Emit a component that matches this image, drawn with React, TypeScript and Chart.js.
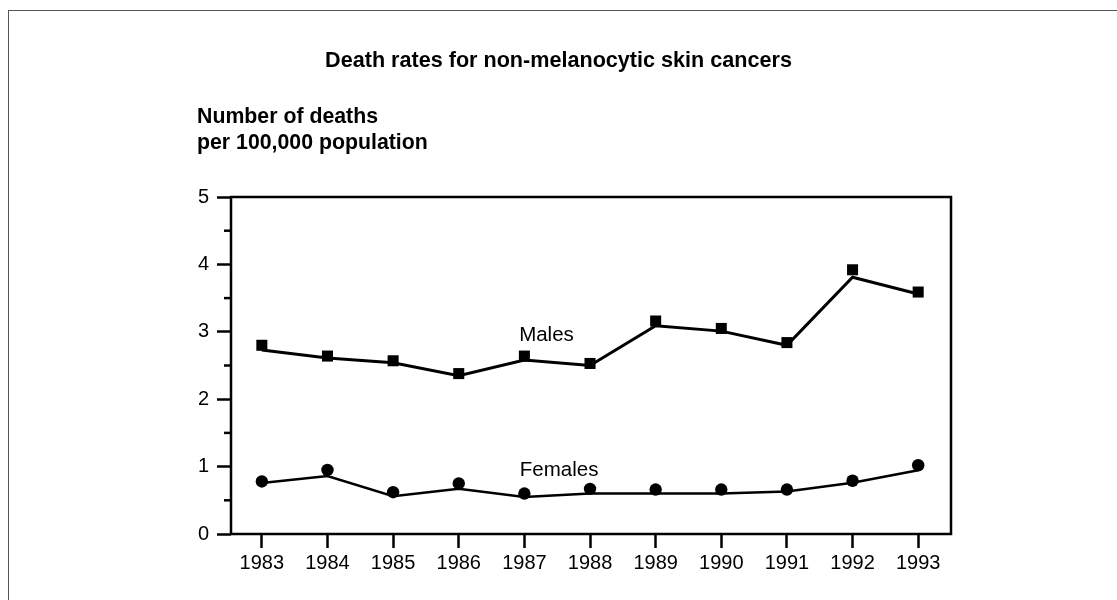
import React, { useEffect, useRef } from "react";
import { Chart, registerables } from "chart.js";

Chart.register(...registerables);

const years = [1983, 1984, 1985, 1986, 1987, 1988, 1989, 1990, 1991, 1992, 1993];
const malesPoints = [2.8, 2.64, 2.57, 2.38, 2.64, 2.53, 3.16, 3.05, 2.84, 3.92, 3.59];
const malesLine = [2.73, 2.61, 2.54, 2.35, 2.58, 2.5, 3.09, 3.01, 2.8, 3.81, 3.56];
const femalesPoints = [0.78, 0.95, 0.62, 0.75, 0.6, 0.67, 0.66, 0.66, 0.66, 0.79, 1.02];
const femalesLine = [0.757, 0.86, 0.56, 0.67, 0.55, 0.6, 0.6, 0.6, 0.63, 0.76, 0.945];
const yMinorTicks = [0.5, 1.5, 2.5, 3.5, 4.5];

const chartTitle = "Death rates for non-melanocytic skin cancers";
const yTitleLines = ["Number of deaths", "per 100,000 population"];
const seriesLabels = [
  { text: "Males", x: 1986.92, y: 2.866 },
  { text: "Females", x: 1986.93, y: 0.867 },
];

const FONT = "'Liberation Sans', Arial, Helvetica, sans-serif";

const toXY = (vals: number[]) => vals.map((v, i) => ({ x: years[i], y: v }));

const decorPlugin = {
  id: "decor",
  afterDraw(chart: any) {
    const { ctx, chartArea, scales } = chart;
    const xs = scales.x;
    const ys = scales.y;
    ctx.save();
    // plot frame
    ctx.strokeStyle = "#000";
    ctx.lineWidth = 2.5;
    ctx.strokeRect(chartArea.left, chartArea.top, chartArea.right - chartArea.left, chartArea.bottom - chartArea.top);
    // minor y ticks
    ctx.lineWidth = 2.5;
    yMinorTicks.forEach((v) => {
      const py = ys.getPixelForValue(v);
      ctx.beginPath();
      ctx.moveTo(chartArea.left - 7, py);
      ctx.lineTo(chartArea.left, py);
      ctx.stroke();
    });
    // title
    ctx.fillStyle = "#000";
    ctx.textBaseline = "alphabetic";
    ctx.font = `bold 21.6px ${FONT}`;
    ctx.textAlign = "center";
    ctx.fillText(chartTitle, chart.width / 2, 67);
    // y axis title
    ctx.font = `bold 21.3px ${FONT}`;
    ctx.textAlign = "left";
    ctx.fillText(yTitleLines[0], 197, 123);
    ctx.fillText(yTitleLines[1], 197, 148.5);
    // series labels
    ctx.font = `20.5px ${FONT}`;
    seriesLabels.forEach((l) => {
      ctx.fillText(l.text, xs.getPixelForValue(l.x), ys.getPixelForValue(l.y));
    });
    ctx.restore();
  },
};

export default function App() {
  const ref = useRef<HTMLCanvasElement | null>(null);
  useEffect(() => {
    if (!ref.current) return;
    const chart = new Chart(ref.current, {
      type: "line",
      data: {
        datasets: [
          {
            label: "Males line",
            data: toXY(malesLine),
            borderColor: "#000",
            borderWidth: 3,
            pointRadius: 0,
            tension: 0,
          },
          {
            label: "Males",
            data: toXY(malesPoints),
            showLine: false,
            pointStyle: "rect",
            pointRadius: 7.8,
            pointBorderWidth: 0,
            pointBackgroundColor: "#000",
            borderColor: "#000",
          },
          {
            label: "Females line",
            data: toXY(femalesLine),
            borderColor: "#000",
            borderWidth: 2.5,
            pointRadius: 0,
            tension: 0,
          },
          {
            label: "Females",
            data: toXY(femalesPoints),
            showLine: false,
            pointStyle: "circle",
            pointRadius: 6.2,
            pointBorderWidth: 0,
            pointBackgroundColor: "#000",
            borderColor: "#000",
          },
        ],
      },
      options: {
        responsive: false,
        animation: false,
        events: [],
        layout: { padding: { left: 0, right: 166, top: 197, bottom: 0 } },
        plugins: {
          legend: { display: false },
          tooltip: { enabled: false },
          title: { display: false },
        },
        scales: {
          x: {
            type: "linear",
            min: 1982.53,
            max: 1993.5,
            afterBuildTicks: (scale: any) => {
              scale.ticks = years.map((v) => ({ value: v }));
            },
            afterFit: (scale: any) => {
              scale.height = 66;
            },
            border: { display: false },
            grid: {
              display: true,
              drawOnChartArea: false,
              drawTicks: true,
              tickLength: 14,
              tickWidth: 2.5,
              tickColor: "#000",
            },
            ticks: {
              padding: 3,
              color: "#000",
              font: { family: FONT, size: 20 },
              maxRotation: 0,
              autoSkip: false,
              callback: (v: any) => String(v),
            },
          },
          y: {
            type: "linear",
            min: 0,
            max: 5,
            afterFit: (scale: any) => {
              scale.width = 231;
            },
            border: { display: false },
            grid: {
              display: true,
              drawOnChartArea: false,
              drawTicks: true,
              tickLength: 14,
              tickWidth: 2.5,
              tickColor: "#000",
            },
            ticks: {
              stepSize: 1,
              padding: 8,
              color: "#000",
              font: { family: FONT, size: 20 },
              callback: (v: any) => String(v),
            },
          },
        },
      },
      plugins: [decorPlugin],
    });
    return () => chart.destroy();
  }, []);

  return (
    <>
      <div
        style={{
          position: "absolute",
          left: 8,
          top: 10,
          width: 1108,
          height: 589,
          borderTop: "1px solid #555",
          borderLeft: "1px solid #555",
        }}
      />
      <div style={{ position: "absolute", left: 0, top: 0, width: 1117, height: 600 }}>
        <canvas ref={ref} width={1117} height={600} style={{ display: "block" }} />
      </div>
    </>
  );
}
